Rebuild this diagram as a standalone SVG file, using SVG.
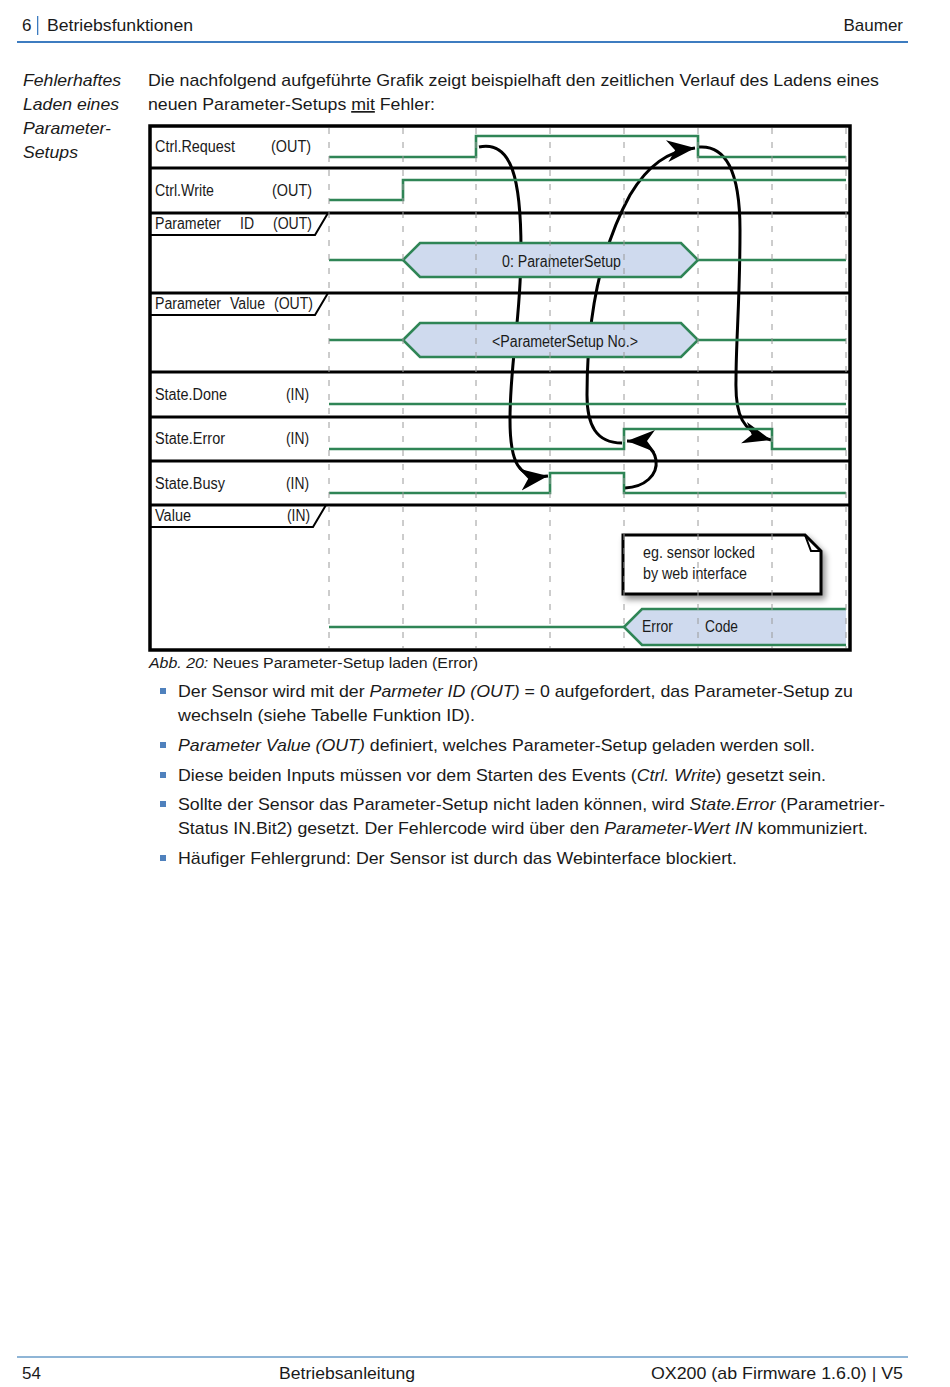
<svg xmlns="http://www.w3.org/2000/svg" width="950" height="1387" viewBox="0 0 950 1387">
<style>
text{font-family:"Liberation Sans",Arial,sans-serif;fill:#1a1a1a}
.b{font-size:17px}
.it{font-style:italic}
.lbl{font-size:16px}
.sig{fill:none;stroke:#2f8556;stroke-width:2.6;stroke-linejoin:miter}
.hex{fill:#cfdaee;stroke:#2f8556;stroke-width:2.6}
.row{stroke:#000;stroke-width:3}
.grid{stroke:#9a9a9a;stroke-width:1;stroke-dasharray:6 8}
.tab{fill:none;stroke:#000;stroke-width:2}
.arr{fill:none;stroke:#000;stroke-width:3;marker-end:url(#ah)}
.bul{fill:#4f81bd}
</style>
<defs>
<marker id="ah" markerWidth="30" markerHeight="24" refX="28" refY="12" orient="auto" markerUnits="userSpaceOnUse"><path d="M0,1 L28,12 L0,23 L8,12 Z" fill="#000"/></marker>
<filter id="sh" x="-20%" y="-20%" width="140%" height="150%"><feGaussianBlur in="SourceAlpha" stdDeviation="3"/><feOffset dx="3" dy="4"/><feComponentTransfer><feFuncA type="linear" slope="0.45"/></feComponentTransfer><feMerge><feMergeNode/><feMergeNode in="SourceGraphic"/></feMerge></filter>
</defs>
<rect width="950" height="1387" fill="#fff"/>

<g id="header">
<text class="b" x="22" y="31">6</text>
<rect x="37" y="16" width="1.3" height="19" fill="#3d7cc0"/>
<text class="b" x="47" y="31" textLength="146" lengthAdjust="spacingAndGlyphs">Betriebsfunktionen</text>
<text class="b" x="903" y="31" text-anchor="end">Baumer</text>
<line x1="17" y1="42" x2="908" y2="42" stroke="#3d7cc0" stroke-width="2"/>
</g>

<g id="sidebar">
<text class="b it" x="23" y="86" textLength="98" lengthAdjust="spacingAndGlyphs">Fehlerhaftes</text>
<text class="b it" x="23" y="110" textLength="96" lengthAdjust="spacingAndGlyphs">Laden eines</text>
<text class="b it" x="23" y="134" textLength="88" lengthAdjust="spacingAndGlyphs">Parameter-</text>
<text class="b it" x="23" y="158" textLength="55" lengthAdjust="spacingAndGlyphs">Setups</text>
</g>

<g id="intro">
<text class="b" x="148" y="86" textLength="731" lengthAdjust="spacingAndGlyphs">Die nachfolgend aufgeführte Grafik zeigt beispielhaft den zeitlichen Verlauf des Ladens eines</text>
<text class="b" x="148" y="110" textLength="287" lengthAdjust="spacingAndGlyphs">neuen Parameter-Setups <tspan text-decoration="underline">mit</tspan> Fehler:</text>
</g>

<g id="diagram">
<rect x="150" y="126" width="700" height="524" fill="#fff"/>
<g id="rows">
<line class="row" x1="150" y1="168" x2="850" y2="168"/>
<line class="row" x1="150" y1="213" x2="850" y2="213"/>
<line class="row" x1="150" y1="293" x2="850" y2="293"/>
<line class="row" x1="150" y1="372" x2="850" y2="372"/>
<line class="row" x1="150" y1="417" x2="850" y2="417"/>
<line class="row" x1="150" y1="461" x2="850" y2="461"/>
<line class="row" x1="150" y1="505" x2="850" y2="505"/>
</g>

<g id="connectors">
<path class="arr" d="M479,147 C512,140 521,180 521,250 C521,320 510,360 510,420 C510,462 518,480 548,476"/>
<path class="arr" d="M622,443 C596,443 587,425 587,395 C587,320 600,250 630,195 C648,165 668,151 695,148"/>
<path class="arr" d="M699,147 C725,145 740,170 740,230 C740,300 736,340 736,380 C735,415 742,432 771,440"/>
<path class="arr" d="M625,488 C645,487 658,475 656,460 C654,447 642,441 627,441"/>
</g>

<g id="ctrl-request">
<text class="lbl" x="155" y="152" textLength="80" lengthAdjust="spacingAndGlyphs">Ctrl.Request</text>
<text class="lbl" x="271" y="152" textLength="40" lengthAdjust="spacingAndGlyphs">(OUT)</text>
<polyline class="sig" points="329,157 476,157 476,136 698,136 698,157 846,157"/>
</g>
<g id="ctrl-write">
<text class="lbl" x="155" y="196" textLength="59" lengthAdjust="spacingAndGlyphs">Ctrl.Write</text>
<text class="lbl" x="272" y="196" textLength="40" lengthAdjust="spacingAndGlyphs">(OUT)</text>
<polyline class="sig" points="329,200 403,200 403,180 846,180"/>
</g>
<g id="parameter-id">
<polyline class="tab" points="150,235 315,235 328,213"/>
<text class="lbl" x="155" y="229" textLength="66" lengthAdjust="spacingAndGlyphs">Parameter</text>
<text class="lbl" x="240" y="229" textLength="14" lengthAdjust="spacingAndGlyphs">ID</text>
<text class="lbl" x="273" y="229" textLength="39" lengthAdjust="spacingAndGlyphs">(OUT)</text>
<line class="sig" x1="329" y1="260" x2="403" y2="260"/>
<polygon class="hex" points="403,260 420,243 681,243 698,260 681,277 420,277"/>
<line class="sig" x1="698" y1="260" x2="846" y2="260"/>
<text class="lbl" x="502" y="267" textLength="119" lengthAdjust="spacingAndGlyphs">0: ParameterSetup</text>
</g>
<g id="parameter-value">
<polyline class="tab" points="150,315 315,315 328,293"/>
<text class="lbl" x="155" y="309" textLength="66" lengthAdjust="spacingAndGlyphs">Parameter</text>
<text class="lbl" x="230" y="309" textLength="35" lengthAdjust="spacingAndGlyphs">Value</text>
<text class="lbl" x="274" y="309" textLength="39" lengthAdjust="spacingAndGlyphs">(OUT)</text>
<line class="sig" x1="329" y1="340" x2="403" y2="340"/>
<polygon class="hex" points="403,340 420,323 681,323 698,340 681,357 420,357"/>
<line class="sig" x1="698" y1="340" x2="846" y2="340"/>
<text class="lbl" x="492" y="347" textLength="146" lengthAdjust="spacingAndGlyphs">&lt;ParameterSetup No.&gt;</text>
</g>
<g id="state-done">
<text class="lbl" x="155" y="400" textLength="72" lengthAdjust="spacingAndGlyphs">State.Done</text>
<text class="lbl" x="286" y="400" textLength="23" lengthAdjust="spacingAndGlyphs">(IN)</text>
<line class="sig" x1="329" y1="404" x2="846" y2="404"/>
</g>
<g id="state-error">
<text class="lbl" x="155" y="444" textLength="70" lengthAdjust="spacingAndGlyphs">State.Error</text>
<text class="lbl" x="286" y="444" textLength="23" lengthAdjust="spacingAndGlyphs">(IN)</text>
<polyline class="sig" points="329,449 624,449 624,429 772,429 772,449 846,449"/>
</g>
<g id="state-busy">
<text class="lbl" x="155" y="489" textLength="70" lengthAdjust="spacingAndGlyphs">State.Busy</text>
<text class="lbl" x="286" y="489" textLength="23" lengthAdjust="spacingAndGlyphs">(IN)</text>
<polyline class="sig" points="329,493 550,493 550,473 624,473 624,493 846,493"/>
</g>
<g id="value">
<polyline class="tab" points="150,527 313,527 326,505"/>
<text class="lbl" x="155" y="521" textLength="36" lengthAdjust="spacingAndGlyphs">Value</text>
<text class="lbl" x="287" y="521" textLength="23" lengthAdjust="spacingAndGlyphs">(IN)</text>
<line class="sig" x1="329" y1="627" x2="624" y2="627"/>
<path d="M846,609 L642,609 L624,627 L642,645 L846,645 Z" fill="#cfdaee" stroke="none"/>
<polyline class="sig" points="846,609 642,609 624,627 642,645 846,645"/>
<text class="lbl" x="642" y="632" textLength="31" lengthAdjust="spacingAndGlyphs">Error</text>
<text class="lbl" x="705" y="632" textLength="33" lengthAdjust="spacingAndGlyphs">Code</text>
</g>
<g id="note">
<path d="M623,535 L805,535 L821,551 L821,594 L623,594 Z" fill="#fff" stroke="#000" stroke-width="3" filter="url(#sh)"/>
<path d="M805,535 L811,551 L821,551" fill="none" stroke="#000" stroke-width="2"/>
<text class="lbl" x="643" y="558" textLength="112" lengthAdjust="spacingAndGlyphs">eg. sensor locked</text>
<text class="lbl" x="643" y="579" textLength="104" lengthAdjust="spacingAndGlyphs">by web interface</text>
</g>
<g id="grid">
<line class="grid" x1="329" y1="128" x2="329" y2="648"/>
<line class="grid" x1="403" y1="128" x2="403" y2="648"/>
<line class="grid" x1="476" y1="128" x2="476" y2="648"/>
<line class="grid" x1="550" y1="128" x2="550" y2="648"/>
<line class="grid" x1="624" y1="128" x2="624" y2="648"/>
<line class="grid" x1="698" y1="128" x2="698" y2="648"/>
<line class="grid" x1="772" y1="128" x2="772" y2="648"/>
<line class="grid" x1="846" y1="128" x2="846" y2="648"/>
</g>
<rect x="150" y="126" width="700" height="524" fill="none" stroke="#000" stroke-width="3.5"/>
</g>

<g id="caption">
<text x="149" y="668" font-size="15.5" textLength="329" lengthAdjust="spacingAndGlyphs"><tspan font-style="italic">Abb. 20:</tspan> Neues Parameter-Setup laden (Error)</text>
</g>

<g id="bullets">
<rect class="bul" x="160" y="688" width="6" height="6"/>
<text class="b" x="178" y="697" textLength="675" lengthAdjust="spacingAndGlyphs">Der Sensor wird mit der <tspan font-style="italic">Parmeter ID (OUT)</tspan> = 0 aufgefordert, das Parameter-Setup zu</text>
<text class="b" x="178" y="721" textLength="297" lengthAdjust="spacingAndGlyphs">wechseln (siehe Tabelle Funktion ID).</text>
<rect class="bul" x="160" y="742" width="6" height="6"/>
<text class="b" x="178" y="751" textLength="637" lengthAdjust="spacingAndGlyphs"><tspan font-style="italic">Parameter Value (OUT)</tspan> definiert, welches Parameter-Setup geladen werden soll.</text>
<rect class="bul" x="160" y="772" width="6" height="6"/>
<text class="b" x="178" y="781" textLength="648" lengthAdjust="spacingAndGlyphs">Diese beiden Inputs müssen vor dem Starten des Events (<tspan font-style="italic">Ctrl. Write</tspan>) gesetzt sein.</text>
<rect class="bul" x="160" y="801" width="6" height="6"/>
<text class="b" x="178" y="810" textLength="707" lengthAdjust="spacingAndGlyphs">Sollte der Sensor das Parameter-Setup nicht laden können, wird <tspan font-style="italic">State.Error</tspan> (Parametrier-</text>
<text class="b" x="178" y="834" textLength="690" lengthAdjust="spacingAndGlyphs">Status IN.Bit2) gesetzt. Der Fehlercode wird über den <tspan font-style="italic">Parameter-Wert IN</tspan> kommuniziert.</text>
<rect class="bul" x="160" y="855" width="6" height="6"/>
<text class="b" x="178" y="864" textLength="559" lengthAdjust="spacingAndGlyphs">Häufiger Fehlergrund: Der Sensor ist durch das Webinterface blockiert.</text>
</g>

<g id="footer">
<line x1="17" y1="1357" x2="908" y2="1357" stroke="#6a9cc8" stroke-width="1.5"/>
<text class="b" x="22" y="1379">54</text>
<text class="b" x="279" y="1379" textLength="136" lengthAdjust="spacingAndGlyphs">Betriebsanleitung</text>
<text class="b" x="903" y="1379" text-anchor="end" textLength="252" lengthAdjust="spacingAndGlyphs">OX200 (ab Firmware 1.6.0) | V5</text>
</g>
</svg>
